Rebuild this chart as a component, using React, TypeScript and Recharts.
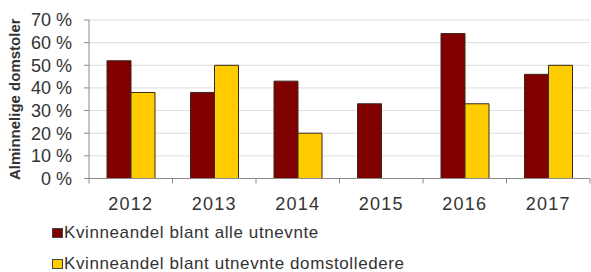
import React from 'react';
import { BarChart, Bar, XAxis, YAxis, CartesianGrid, Legend, Label } from 'recharts';

const years = ['2012', '2013', '2014', '2015', '2016', '2017'];
const allAppointed = [52, 38, 43, 33, 64, 46];
const courtLeaders = [38, 50, 20, 0, 33, 50];
const yTicks = [0, 10, 20, 30, 40, 50, 60, 70];

const seriesNames = ['Kvinneandel blant alle utnevnte', 'Kvinneandel blant utnevnte domstolledere'];
const seriesColors = ['#800000', '#FFCC00'];

const data = years.map((y, i) => ({ year: y, all: allAppointed[i], leaders: courtLeaders[i] }));

const TEXT = '#333333';
const AXIS = '#8a8a8a';

const XTick = (props: any) => {
  const { x, y, payload, index, visibleTicksCount, width } = props;
  const half = payload && typeof payload.offset === 'number' && payload.offset > 0
    ? payload.offset
    : width / visibleTicksCount / 2;
  return (
    <g>
      <line x1={x - half} x2={x - half} y1={y} y2={y + 5} stroke={AXIS} />
      {index === visibleTicksCount - 1 && (
        <line x1={x + half} x2={x + half} y1={y} y2={y + 5} stroke={AXIS} />
      )}
      <text
        x={x}
        y={y + 31}
        textAnchor="middle"
        fontSize={18}
        letterSpacing={1.2}
        fill={TEXT}
        fontFamily="'Liberation Sans', Arial, sans-serif"
      >
        {payload.value}
      </text>
    </g>
  );
};

const LegendContent = () => (
  <div style={{ height: 57, paddingLeft: 52, fontFamily: "'Liberation Sans', Arial, sans-serif" }}>
    {seriesNames.map((n, i) => (
      <div
        key={n}
        style={{
          height: 26,
          marginBottom: i === 0 ? 5 : 0,
          display: 'flex',
          alignItems: 'center',
          fontSize: 17,
          letterSpacing: 0.6,
          color: TEXT,
          whiteSpace: 'nowrap',
        }}
      >
        <span
          style={{
            display: 'inline-block',
            width: 9,
            height: 8,
            background: seriesColors[i],
            border: '1px solid #444',
            marginRight: 1,
          }}
        />
        {n}
      </div>
    ))}
  </div>
);

export default function App() {
  return (
    <div style={{ position: 'absolute', left: 0, top: 0, width: 591, height: 272, background: '#fff' }}>
      <BarChart
        width={591}
        height={272}
        data={data}
        margin={{ top: 20, right: 1, left: 0, bottom: 0.5 }}
        barGap={0}
      >
        <CartesianGrid vertical={false} stroke="#dcdcdc" />
        <XAxis
          dataKey="year"
          height={36}
          tickLine={false}
          tickSize={0}
          tickMargin={0}
          axisLine={{ stroke: AXIS }}
          tick={<XTick />}
          interval={0}
        />
        <YAxis
          width={89}
          domain={[0, 70]}
          ticks={yTicks}
          interval={0}
          tickFormatter={(v: number) => `${v} %`}
          tickSize={5}
          tickMargin={12}
          tickLine={{ stroke: AXIS }}
          axisLine={{ stroke: AXIS }}
          tick={{ fontSize: 18, fill: TEXT, fontFamily: "'Liberation Sans', Arial, sans-serif" }}
        >
          <Label
            value="Alminnelige domstoler"
            angle={-90}
            position="center"
            dx={-29.5}
            style={{
              textAnchor: 'middle',
              fontSize: 15,
              fontWeight: 'bold',
              fill: TEXT,
              fontFamily: "'Liberation Sans', Arial, sans-serif",
            }}
          />
        </YAxis>
        <Legend
          verticalAlign="bottom"
          content={<LegendContent />}
          wrapperStyle={{ top: 220, bottom: 'auto', left: 0 }}
        />
        <Bar dataKey="all" name={seriesNames[0]} fill={seriesColors[0]} stroke="#3a2a1a" strokeWidth={1} barSize={24} isAnimationActive={false} />
        <Bar dataKey="leaders" name={seriesNames[1]} fill={seriesColors[1]} stroke="#3a2a1a" strokeWidth={1} barSize={24} isAnimationActive={false} />
      </BarChart>
    </div>
  );
}
